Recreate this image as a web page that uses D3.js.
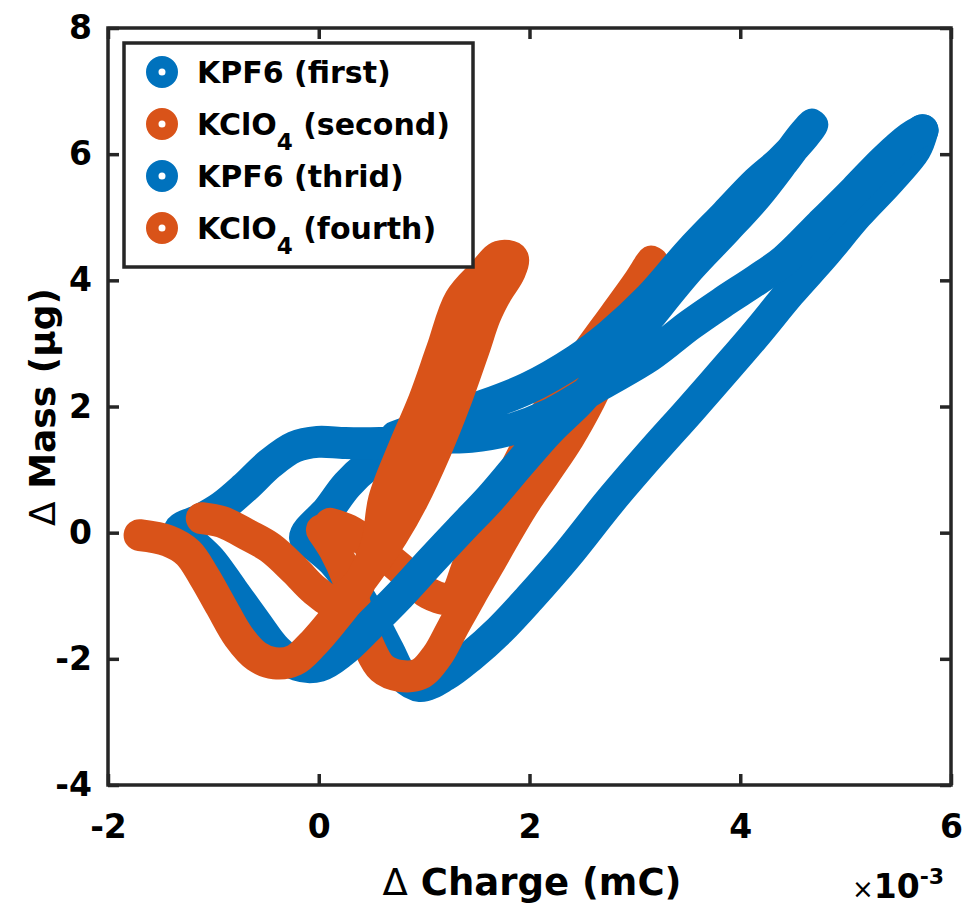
<!DOCTYPE html>
<html><head><meta charset="utf-8">
<script src="https://cdn.jsdelivr.net/npm/d3@7"></script>
<style>body{margin:0;background:#fff;} svg{display:block;}</style>
</head><body>
<svg id="chart" width="969" height="905"></svg>
<script>
// ---------- data (charge in units of 1e-3 mC, mass in µg) ----------
const seriesNames = ["KPF6 (first)", "KClO_4 (second)", "KPF6 (thrid)", "KClO_4 (fourth)"];
const seriesColors = ["#0072BD", "#D95319", "#0072BD", "#D95319"];
const xTicks = [-2, 0, 2, 4, 6];
const yTicks = [-4, -2, 0, 2, 4, 6, 8];

const kpf6FirstCharge = [1.15, 0.87, 0.70, 0.47, 0.27, 0.09, -0.13, -0.01, 0.15, 0.34, 0.51, 0.66, 0.79, 0.96, 1.20, 1.44, 1.72, 2.00, 2.36, 2.76, 3.14, 3.52, 3.84, 4.16, 4.47, 4.79, 5.11, 5.42, 5.66, 5.73];
const kpf6FirstMass   = [1.50, 1.42, 1.31, 1.07, 0.76, 0.36, -0.08, -0.24, -0.48, -0.91, -1.38, -1.86, -2.26, -2.43, -2.26, -1.96, -1.54, -1.04, -0.35, 0.49, 1.23, 1.94, 2.55, 3.17, 3.80, 4.40, 5.04, 5.59, 6.07, 6.38];

const kclo4SecondCharge = [0.03, 0.15, 0.28, 0.37, 0.47, 0.60, 0.77, 0.96, 1.12, 1.27, 1.44, 1.61, 1.77, 1.93, 2.15, 2.37, 2.57, 2.75, 2.91, 3.05, 3.16, 3.03, 2.81, 2.57, 2.34, 2.15, 1.96, 1.77, 1.58, 1.42, 1.27, 1.04, 0.77, 0.51, 0.28, 0.11];
const kclo4SecondMass   = [0.04, -0.27, -0.75, -1.31, -1.78, -2.15, -2.27, -2.24, -1.96, -1.51, -1.00, -0.51, -0.04, 0.41, 0.95, 1.50, 2.10, 2.74, 3.37, 3.88, 4.29, 3.96, 3.45, 2.90, 2.34, 1.87, 1.31, 0.68, 0.04, -0.51, -1.04, -0.96, -0.56, -0.21, 0.04, 0.14];

const kpf6ThirdCharge = [5.73, 5.61, 5.37, 5.09, 4.76, 4.42, 4.16, 3.84, 3.52, 3.14, 2.67, 2.19, 1.81, 1.44, 1.15, 0.87, 0.58, 0.25, -0.01, -0.23, -0.46, -0.70, -0.92, -1.13, -1.32, -1.20, -1.03, -0.82, -0.60, -0.40, -0.20, 0.01, 0.22, 0.49, 0.77, 1.06, 1.34, 1.63, 1.91, 2.19, 2.48, 2.81, 3.14, 3.52, 3.86, 4.16, 4.42, 4.59, 4.68, 4.57, 4.38, 4.16, 3.86, 3.52, 3.14, 2.76, 2.45, 1.98, 1.44, 0.96, 0.73];
const kpf6ThirdMass   = [6.38, 6.26, 5.91, 5.43, 4.88, 4.32, 4.01, 3.66, 3.29, 2.80, 2.34, 1.87, 1.63, 1.52, 1.50, 1.44, 1.42, 1.42, 1.44, 1.36, 1.10, 0.72, 0.41, 0.20, 0.04, -0.16, -0.43, -0.91, -1.42, -1.86, -2.10, -2.11, -1.89, -1.46, -0.99, -0.46, 0.04, 0.55, 1.10, 1.63, 2.10, 2.74, 3.43, 4.20, 4.80, 5.35, 5.91, 6.29, 6.46, 6.22, 5.88, 5.56, 5.04, 4.45, 3.72, 3.13, 2.74, 2.29, 1.94, 1.66, 1.52];

const kclo4FourthCharge = [-1.70, -1.43, -1.24, -1.09, -0.93, -0.76, -0.59, -0.42, -0.23, -0.05, 0.14, 0.32, 0.46, 0.56, 0.62, 0.80, 1.00, 1.17, 1.34, 1.56, 1.72, 1.84, 1.81, 1.69, 1.58, 1.47, 1.30, 1.11, 0.89, 0.70, 0.51, 0.32, 0.15, -0.04, -0.23, -0.46, -0.67, -0.92, -1.11];
const kclo4FourthMass   = [-0.04, -0.13, -0.32, -0.69, -1.16, -1.65, -1.96, -2.07, -2.02, -1.75, -1.38, -0.99, -0.56, -0.12, 0.52, 1.31, 2.10, 2.90, 3.69, 4.11, 4.38, 4.35, 4.13, 3.81, 3.44, 2.90, 2.10, 1.31, 0.52, -0.04, -0.51, -0.91, -1.10, -0.91, -0.59, -0.24, -0.04, 0.17, 0.23];

const seriesCharge = [kpf6FirstCharge, kclo4SecondCharge, kpf6ThirdCharge, kclo4FourthCharge];
const seriesMass = [kpf6FirstMass, kclo4SecondMass, kpf6ThirdMass, kclo4FourthMass];

// ---------- layout ----------
const svg = d3.select("#chart");
const axisColor = "#262626";
const fontFam = "'DejaVu Sans', 'Liberation Sans', sans-serif";
const x = d3.scaleLinear().domain([-2, 6]).range([108, 951]);
const y = d3.scaleLinear().domain([-4, 8]).range([785, 28]);

// ---------- data ----------
const line = d3.line().x(d => x(d[0])).y(d => y(d[1])).curve(d3.curveCatmullRom.alpha(0.5));
seriesNames.forEach((name, i) => {
  svg.append("path")
    .datum(d3.zip(seriesCharge[i], seriesMass[i]))
    .attr("d", line)
    .attr("fill", "none")
    .attr("stroke", seriesColors[i])
    .attr("stroke-width", 32)
    .attr("stroke-linecap", "round")
    .attr("stroke-linejoin", "round");
});

// ---------- axes ----------
function styleAxis(g) {
  g.select(".domain").remove();
  g.selectAll(".tick line").attr("stroke", axisColor).attr("stroke-width", 3.5);
  g.selectAll(".tick text").attr("fill", "#000")
    .style("font-family", fontFam).style("font-weight", "bold").style("font-size", "33px");
}
const fmt = d => String(d);
svg.append("g").attr("transform", "translate(108,0)")
  .call(d3.axisLeft(y).tickValues(yTicks).tickSizeInner(-11).tickSizeOuter(0).tickPadding(16).tickFormat(fmt))
  .call(styleAxis);
svg.append("g").attr("transform", "translate(951,0)")
  .call(d3.axisRight(y).tickValues(yTicks).tickSizeInner(-11).tickSizeOuter(0).tickFormat(""))
  .call(styleAxis);
svg.append("g").attr("transform", "translate(0,785)")
  .call(d3.axisBottom(x).tickValues(xTicks).tickSizeInner(-11).tickSizeOuter(0).tickPadding(30).tickFormat(fmt))
  .call(styleAxis);
svg.append("g").attr("transform", "translate(0,28)")
  .call(d3.axisTop(x).tickValues(xTicks).tickSizeInner(-11).tickSizeOuter(0).tickFormat(""))
  .call(styleAxis);
svg.append("rect").attr("x", 108).attr("y", 28).attr("width", 843).attr("height", 757)
  .attr("fill", "none").attr("stroke", axisColor).attr("stroke-width", 3.5);

// axis labels
const xl = svg.append("text").attr("x", 532).attr("y", 895).attr("text-anchor", "middle")
  .style("font-family", fontFam).style("font-size", "37px").attr("fill", "#000");
xl.append("tspan").style("font-weight", "normal").text("Δ");
xl.append("tspan").style("font-weight", "bold").text(" Charge (mC)");

const yl = svg.append("text").attr("transform", "translate(55,407) rotate(-90)").attr("text-anchor", "middle")
  .style("font-family", fontFam).style("font-size", "36px").attr("fill", "#000");
yl.append("tspan").style("font-weight", "normal").text("Δ");
yl.append("tspan").style("font-weight", "bold").text(" Mass (μg)");

const ex = svg.append("text").attr("x", 852).attr("y", 898)
  .style("font-family", fontFam).attr("fill", "#000");
ex.append("tspan").style("font-size", "26px").style("font-weight", "normal").text("×");
ex.append("tspan").style("font-size", "33px").style("font-weight", "bold").text("10");
ex.append("tspan").attr("dy", -14).style("font-size", "22px").style("font-weight", "bold").text("-3");

// ---------- legend ----------
const lg = svg.append("g");
lg.append("rect").attr("x", 124).attr("y", 43).attr("width", 349).attr("height", 224)
  .attr("fill", "#fff").attr("stroke", axisColor).attr("stroke-width", 3.5);
seriesNames.forEach((name, i) => {
  const cy = 72 + i * 52;
  lg.append("circle").attr("cx", 162).attr("cy", cy).attr("r", 9.75)
    .attr("fill", "#fff").attr("stroke", seriesColors[i]).attr("stroke-width", 12.5);
  const t = lg.append("text").attr("x", 197).attr("y", cy + 11)
    .style("font-family", fontFam).style("font-weight", "bold").style("font-size", "30px").attr("fill", "#000");
  const m = name.match(/^(.*?)_(\d)(.*)$/);
  if (m) {
    t.append("tspan").text(m[1]);
    t.append("tspan").attr("dy", 15).style("font-size", "23px").text(m[2]);
    t.append("tspan").attr("dy", -15).text(m[3]);
  } else {
    t.text(name);
  }
});
</script>
</body></html>
